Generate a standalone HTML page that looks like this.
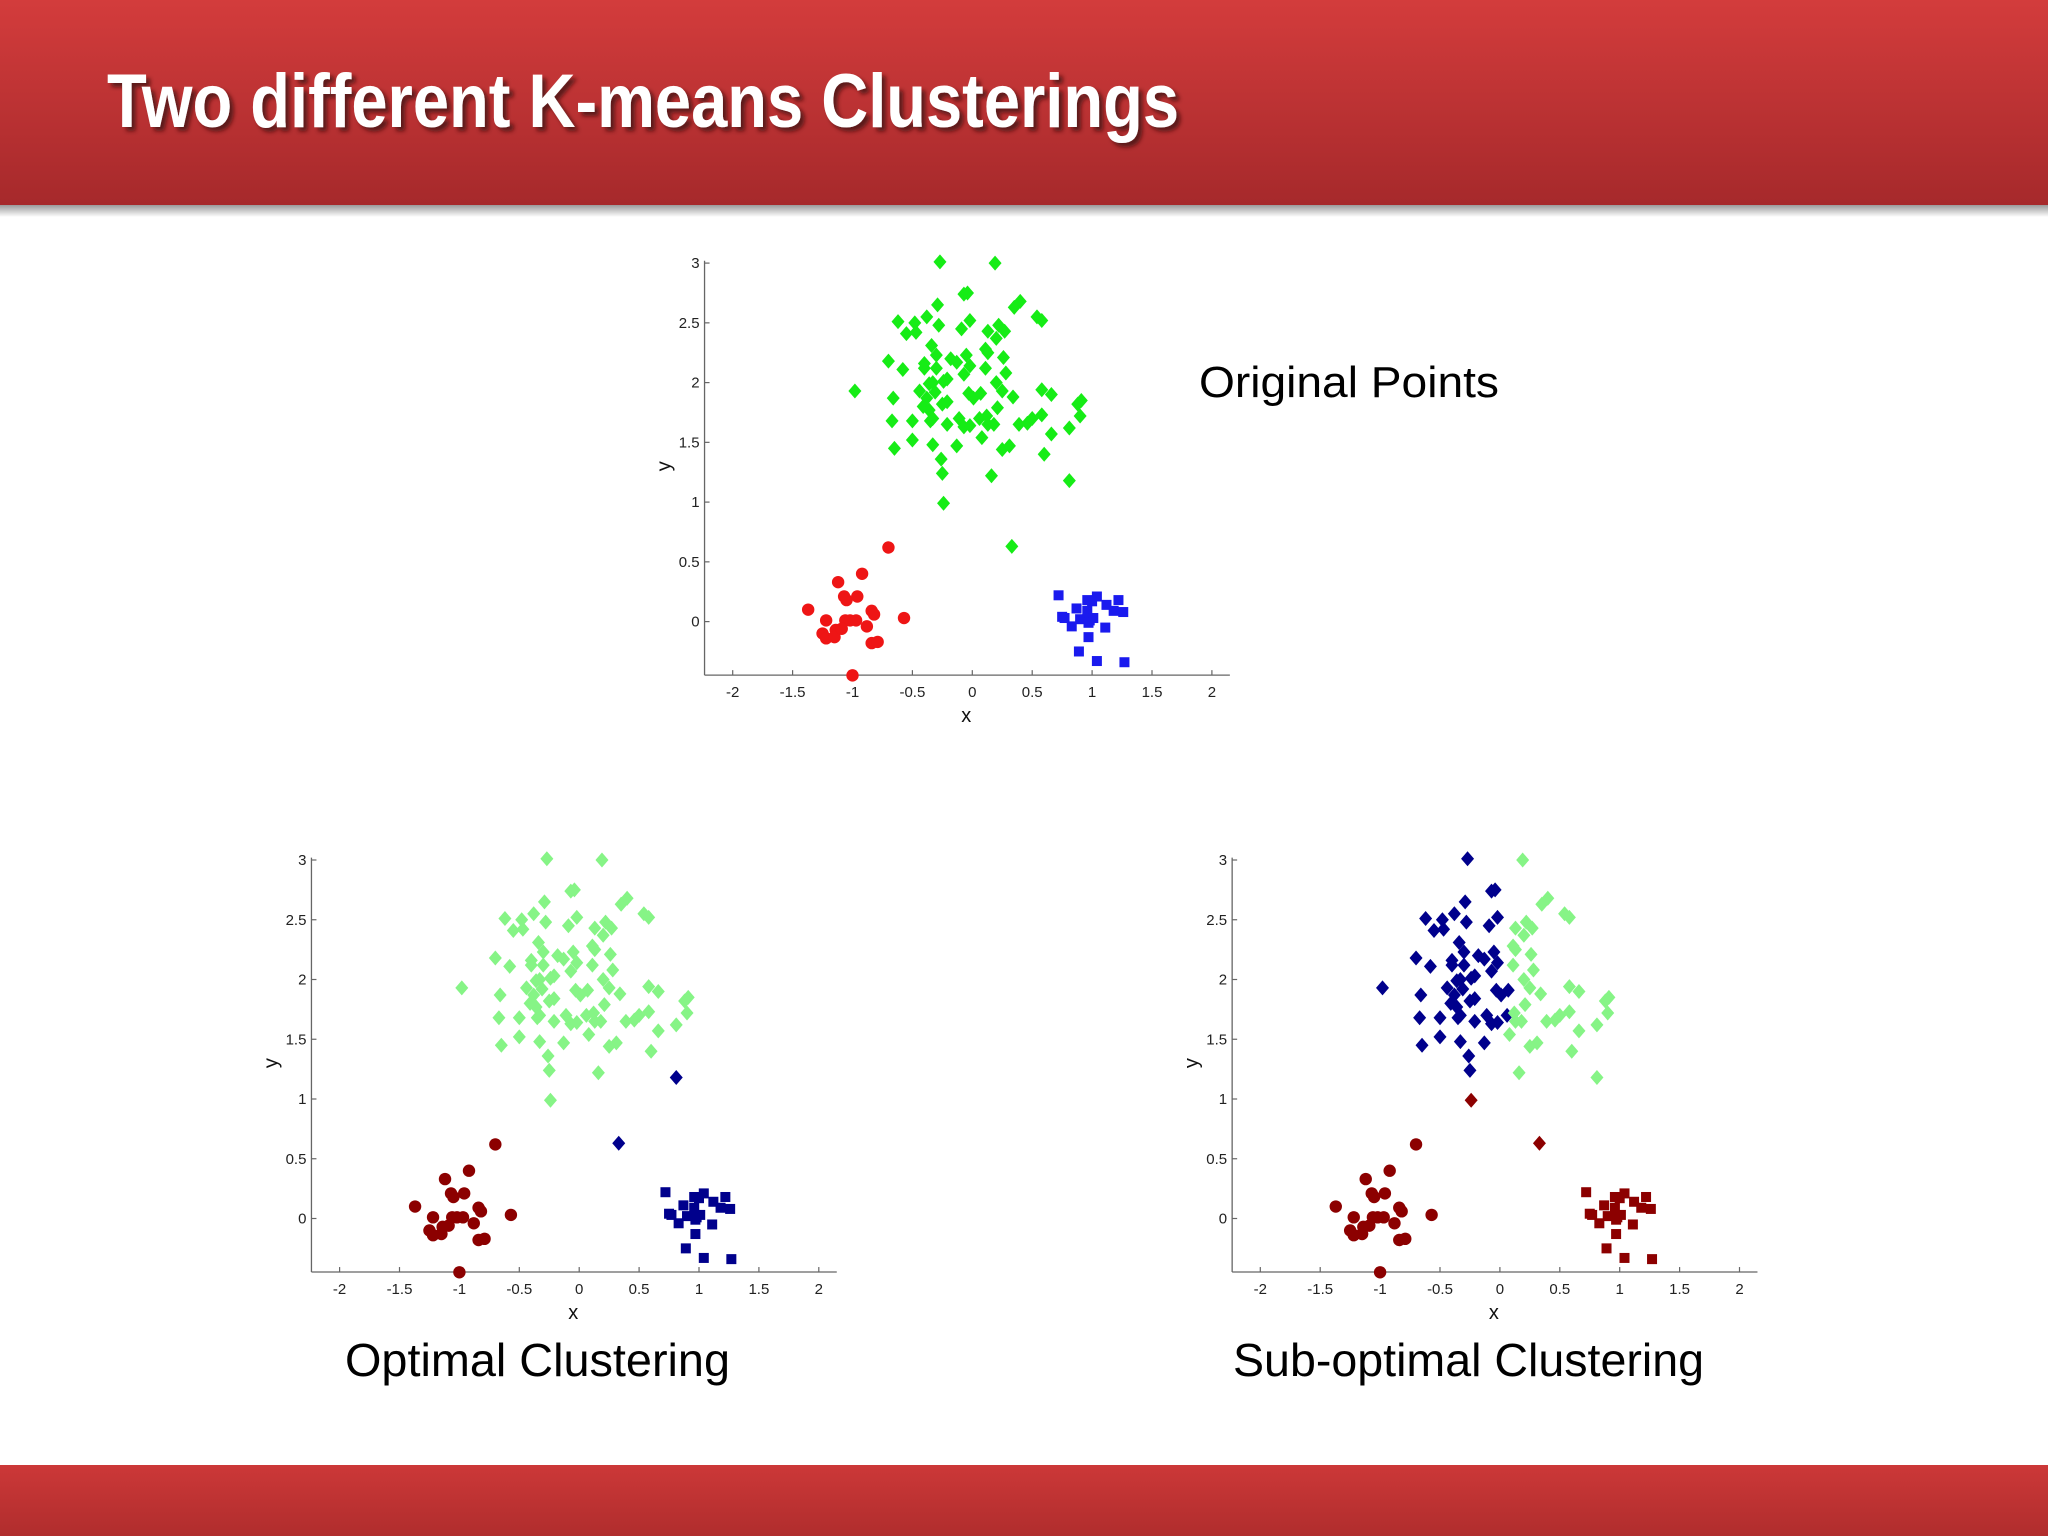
<!DOCTYPE html>
<html><head><meta charset="utf-8"><style>
html,body{margin:0;padding:0;background:#fff}
svg{display:block}
</style></head><body>
<svg id="slide" xmlns="http://www.w3.org/2000/svg" width="2048" height="1536" viewBox="0 0 2048 1536" font-family="'Liberation Sans', sans-serif">
<defs>
<linearGradient id="hdr" x1="0" y1="0" x2="0" y2="1"><stop offset="0" stop-color="#d33c3c"/><stop offset="1" stop-color="#a6292b"/></linearGradient>
<linearGradient id="shd" x1="0" y1="0" x2="0" y2="1"><stop offset="0" stop-color="#9a9a9a"/><stop offset="1" stop-color="#ffffff"/></linearGradient>
<linearGradient id="ftr" x1="0" y1="0" x2="0" y2="1"><stop offset="0" stop-color="#cc3838"/><stop offset="1" stop-color="#b02d2d"/></linearGradient>
<filter id="ts" x="-5%" y="-20%" width="110%" height="150%"><feDropShadow dx="4" dy="4" stdDeviation="2" flood-color="#3a0a0a" flood-opacity="0.75"/></filter>
</defs>
<rect x="0" y="0" width="2048" height="205" fill="url(#hdr)"/>
<rect x="0" y="205" width="2048" height="12" fill="url(#shd)"/>
<text x="107" y="127" font-size="76" font-weight="bold" fill="#fff" textLength="1072" lengthAdjust="spacingAndGlyphs" filter="url(#ts)">Two different K-means Clusterings</text>
<rect x="0" y="1465" width="2048" height="71" fill="url(#ftr)"/>
<text x="1199" y="397" font-size="44" fill="#000" textLength="300" lengthAdjust="spacingAndGlyphs">Original Points</text>
<text x="345" y="1376" font-size="46" fill="#000" textLength="385" lengthAdjust="spacingAndGlyphs">Optimal Clustering</text>
<text x="1233" y="1376" font-size="46" fill="#000" textLength="471" lengthAdjust="spacingAndGlyphs">Sub-optimal Clustering</text>
<g id="plots"></g>
</svg>
<script>
// ---- data (x, y) ----
const redPts = [[-0.70,0.62],[-0.92,0.40],[-1.12,0.33],[-1.07,0.21],[-1.05,0.18],[-0.96,0.21],[-1.37,0.10],[-1.22,0.01],[-0.84,0.09],[-0.82,0.06],[-0.57,0.03],[-1.06,0.01],[-1.02,0.01],[-0.97,0.01],[-0.88,-0.04],[-1.25,-0.10],[-1.22,-0.14],[-1.14,-0.07],[-1.15,-0.13],[-1.09,-0.06],[-0.84,-0.18],[-0.79,-0.17],[-1.00,-0.45]];
const bluePts = [[0.72,0.22],[0.75,0.04],[0.77,0.03],[0.87,0.11],[0.96,0.18],[1.00,0.17],[1.04,0.21],[1.12,0.14],[1.18,0.09],[1.22,0.18],[1.26,0.08],[0.96,0.09],[0.90,0.02],[0.98,0.01],[1.01,0.03],[0.83,-0.04],[1.11,-0.05],[0.97,-0.01],[0.97,-0.13],[0.89,-0.25],[1.04,-0.33],[1.27,-0.34]];
const greenLeft = [[-0.27,3.01],[-0.07,2.74],[-0.04,2.75],[-0.29,2.65],[-0.62,2.51],[-0.48,2.50],[-0.38,2.55],[-0.28,2.48],[-0.02,2.52],[-0.09,2.45],[-0.55,2.41],[-0.47,2.42],[-0.34,2.31],[-0.30,2.23],[-0.05,2.23],[-0.70,2.18],[-0.58,2.11],[-0.40,2.16],[-0.40,2.12],[-0.30,2.12],[-0.18,2.20],[-0.13,2.17],[-0.02,2.14],[-0.07,2.07],[-0.98,1.93],[-0.66,1.87],[-0.44,1.93],[-0.36,1.99],[-0.33,2.00],[-0.31,1.92],[-0.24,2.01],[-0.21,2.03],[-0.38,1.87],[-0.25,1.82],[-0.21,1.84],[-0.03,1.91],[0.01,1.87],[0.07,1.91],[-0.41,1.80],[-0.36,1.77],[-0.67,1.68],[-0.50,1.68],[-0.35,1.68],[-0.33,1.70],[-0.21,1.65],[-0.11,1.70],[-0.07,1.63],[-0.02,1.64],[0.06,1.70],[-0.50,1.52],[-0.65,1.45],[-0.33,1.48],[-0.13,1.47],[-0.26,1.36],[-0.25,1.24]];
const greenRight = [[0.19,3.00],[0.35,2.63],[0.40,2.68],[0.13,2.43],[0.22,2.48],[0.27,2.43],[0.20,2.37],[0.54,2.55],[0.58,2.52],[0.11,2.28],[0.13,2.25],[0.26,2.21],[0.11,2.12],[0.28,2.08],[0.20,2.00],[0.25,1.93],[0.34,1.88],[0.58,1.94],[0.66,1.90],[0.88,1.82],[0.91,1.85],[0.21,1.79],[0.12,1.72],[0.13,1.65],[0.18,1.65],[0.39,1.65],[0.46,1.66],[0.50,1.70],[0.58,1.73],[0.66,1.57],[0.81,1.62],[0.90,1.72],[0.08,1.54],[0.25,1.44],[0.31,1.47],[0.60,1.40],[0.16,1.22]];
const outA = [[-0.24,0.99]];
const outB = [[0.81,1.18]];
const outC = [[0.33,0.63]];
const xTicks = [-2,-1.5,-1,-0.5,0,0.5,1,1.5,2];
const xTickLabels = ["-2","-1.5","-1","-0.5","0","0.5","1","1.5","2"];
const yTicks = [0,0.5,1,1.5,2,2.5,3];
const yTickLabels = ["0","0.5","1","1.5","2","2.5","3"];

const NS = "http://www.w3.org/2000/svg";
const root = document.getElementById('plots');
function mk(tag, attrs, parent){const e=document.createElementNS(NS,tag);for(const k in attrs)e.setAttribute(k,attrs[k]);parent.appendChild(e);return e;}

const UX = 119.8, UY = 119.5;
function drawPlot(name, xm2, y0, series){
  const g = mk('g',{},root);
  
  
  const sx = v => xm2 + (v + 2) * UX;
  const sy = v => y0 - v * UY;
  const axX = sx(-2.235), bot = sy(-0.448), top = sy(3.02), right = sx(2.15);
  const ya = mk('line',{x1:axX,y1:top,x2:axX,y2:bot,stroke:'#666','stroke-width':1.3},g);
  
  
  const xa = mk('line',{x1:axX,y1:bot,x2:right,y2:bot,stroke:'#666','stroke-width':1.3},g);
  
  
  xTicks.forEach((t,i)=>{
    mk('line',{x1:sx(t),y1:bot,x2:sx(t),y2:bot-5,stroke:'#666','stroke-width':1.2},g);
    const tl = mk('text',{x:sx(t),y:bot+22,'font-size':15,'text-anchor':'middle',fill:'#222'},g);
    tl.textContent = xTickLabels[i];
    
    
  });
  yTicks.forEach((t,i)=>{
    mk('line',{x1:axX,y1:sy(t),x2:axX+5,y2:sy(t),stroke:'#666','stroke-width':1.2},g);
    const tl = mk('text',{x:axX-5,y:sy(t)+5,'font-size':15,'text-anchor':'end',fill:'#222'},g);
    tl.textContent = yTickLabels[i];
    
    
  });
  const xl = mk('text',{x:sx(-0.05),y:bot+47,'font-size':20,'text-anchor':'middle',fill:'#111'},g);
  xl.textContent = 'x';
  
  
  const yx = axX-34, yy = sy(1.3);
  const yl = mk('text',{x:yx,y:yy,'font-size':20,'text-anchor':'middle',fill:'#111',transform:`rotate(-90 ${yx} ${yy})`},g);
  yl.textContent = 'y';
  
  
  series.forEach(s=>{
    s.pts.forEach(p=>{
      const cx = sx(p[0]), cy = sy(p[1]);
      let m;
      if (s.shape==='d') m = mk('polygon',{points:`${cx},${cy-7.5} ${cx+6.5},${cy} ${cx},${cy+7.5} ${cx-6.5},${cy}`,fill:s.color},g);
      else if (s.shape==='o') m = mk('circle',{cx:cx,cy:cy,r:6.2,fill:s.color},g);
      else m = mk('rect',{x:cx-5,y:cy-5,width:10,height:10,fill:s.color},g);
      
      
    });
  });
}
const G='#16ec16', R='#ee1515', B='#1a1aee', LG='#86f486', DR='#8c0000', NV='#00008c';
drawPlot('original-points-plot', 732.7, 621.6, [
  {pts:greenLeft,shape:'d',color:G,name:'green-point'},{pts:greenRight,shape:'d',color:G,name:'green-point'},
  {pts:outA,shape:'d',color:G,name:'green-point'},{pts:outB,shape:'d',color:G,name:'green-point'},{pts:outC,shape:'d',color:G,name:'green-point'},
  {pts:redPts,shape:'o',color:R,name:'red-point'},{pts:bluePts,shape:'s',color:B,name:'blue-point'}]);
drawPlot('optimal-clustering-plot', 339.6, 1218.5, [
  {pts:greenLeft,shape:'d',color:LG,name:'cluster-point'},{pts:greenRight,shape:'d',color:LG,name:'cluster-point'},
  {pts:outA,shape:'d',color:LG,name:'cluster-point'},{pts:outB,shape:'d',color:NV,name:'cluster-point'},{pts:outC,shape:'d',color:NV,name:'cluster-point'},
  {pts:redPts,shape:'o',color:DR,name:'cluster-point'},{pts:bluePts,shape:'s',color:NV,name:'cluster-point'}]);
drawPlot('suboptimal-clustering-plot', 1260.3, 1218.5, [
  {pts:greenLeft,shape:'d',color:NV,name:'cluster-point'},{pts:greenRight,shape:'d',color:LG,name:'cluster-point'},
  {pts:outA,shape:'d',color:DR,name:'cluster-point'},{pts:outB,shape:'d',color:LG,name:'cluster-point'},{pts:outC,shape:'d',color:DR,name:'cluster-point'},
  {pts:redPts,shape:'o',color:DR,name:'cluster-point'},{pts:bluePts,shape:'s',color:DR,name:'cluster-point'}]);
</script>
</body></html>
